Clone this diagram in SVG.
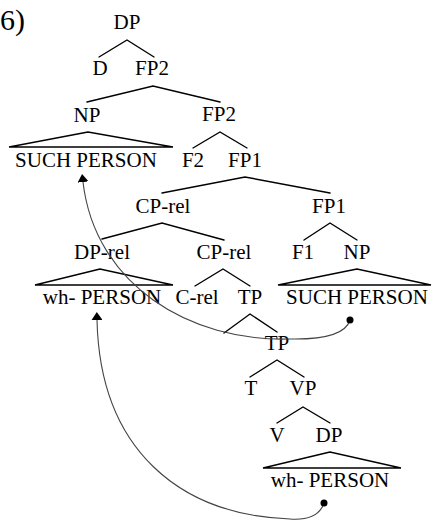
<svg xmlns="http://www.w3.org/2000/svg" width="435" height="520" viewBox="0 0 435 520">
<style>
text{font-family:"Liberation Serif","Times New Roman",serif;font-size:21px;fill:#000;text-anchor:middle}
.e{stroke:#000;stroke-width:1.4;fill:none;stroke-linecap:round}
.tri{stroke:#000;stroke-width:1.4;fill:none;stroke-linejoin:miter}
.mv{stroke:#444;stroke-width:1.1;fill:none;marker-end:url(#ah)}
</style>
<defs>
<marker id="ah" markerUnits="userSpaceOnUse" markerWidth="8" markerHeight="11" viewBox="0 0 8 11" refX="0" refY="5.5" orient="auto">
<path d="M0,0 L8,5.5 L0,11 z" fill="#000"/>
</marker>
</defs>
<rect width="435" height="520" fill="#fff"/>
<text x="0" y="30" style="font-size:30px;text-anchor:start">6)</text>
<g id="edges">
<path class="e" d="M99,57 L127,40 L154,57"/>
<path class="e" d="M87,102 L153,86 L220,102"/>
<path class="tri" d="M88,132 L9,147 L173,147 Z"/>
<path class="e" d="M193,148 L220,132 L247,148"/>
<path class="e" d="M162,193 L245,177 L330,193"/>
<path class="e" d="M102,239 L162,223 L224,240"/>
<path class="e" d="M304,240 L330,223 L357,240"/>
<path class="tri" d="M100,269 L35,285 L173,285 Z"/>
<path class="e" d="M195,286 L223,269 L250,286"/>
<path class="tri" d="M357,269 L278,285 L431,285 Z"/>
<path class="e" d="M224,333 L250,314 L277,332"/>
<path class="e" d="M250,377 L277,360 L304,377"/>
<path class="e" d="M277,423 L303,407 L330,423"/>
<path class="tri" d="M330,452 L263,468 L401,468 Z"/>
</g>
<g id="n-DP"><text x="127" y="29">DP</text></g>
<g id="n-D"><text x="100" y="75">D</text></g>
<g id="n-FP2a"><text x="152" y="75">FP2</text></g>
<g id="n-NPa"><text x="87" y="122">NP</text></g>
<g id="n-FP2b"><text x="219" y="121">FP2</text></g>
<g id="n-SUCHa"><text x="86" y="167">SUCH PERSON</text></g>
<g id="n-F2"><text x="193" y="167">F2</text></g>
<g id="n-FP1a"><text x="245" y="167">FP1</text></g>
<g id="n-CPrela"><text x="163" y="213">CP-rel</text></g>
<g id="n-FP1b"><text x="329" y="213">FP1</text></g>
<g id="n-DPrel"><text x="102" y="259">DP-rel</text></g>
<g id="n-CPrelb"><text x="224" y="259">CP-rel</text></g>
<g id="n-F1"><text x="303" y="259">F1</text></g>
<g id="n-NPb"><text x="357" y="259">NP</text></g>
<g id="n-wha"><text x="102" y="304">wh- PERSON</text></g>
<g id="n-Crel"><text x="197" y="304">C-rel</text></g>
<g id="n-TPa"><text x="250" y="304">TP</text></g>
<g id="n-SUCHb"><text x="357" y="304">SUCH PERSON</text></g>
<g id="n-TPb"><text x="277" y="350">TP</text></g>
<g id="n-T"><text x="251" y="395">T</text></g>
<g id="n-VP"><text x="303" y="395">VP</text></g>
<g id="n-V"><text x="277" y="442">V</text></g>
<g id="n-DPb"><text x="329" y="442">DP</text></g>
<g id="n-whb"><text x="330" y="487">wh- PERSON</text></g>
<g id="movement">
<path class="mv" d="M350,320 Q344,340 290,339 C190,342 95,285 83,182"/>
<circle cx="350" cy="320" r="3.5" fill="#000"/>
<path class="mv" d="M324,503 Q318,521 290,519 C180,515 100,450 97,320"/>
<circle cx="324" cy="503" r="3.5" fill="#000"/>
</g>
</svg>
